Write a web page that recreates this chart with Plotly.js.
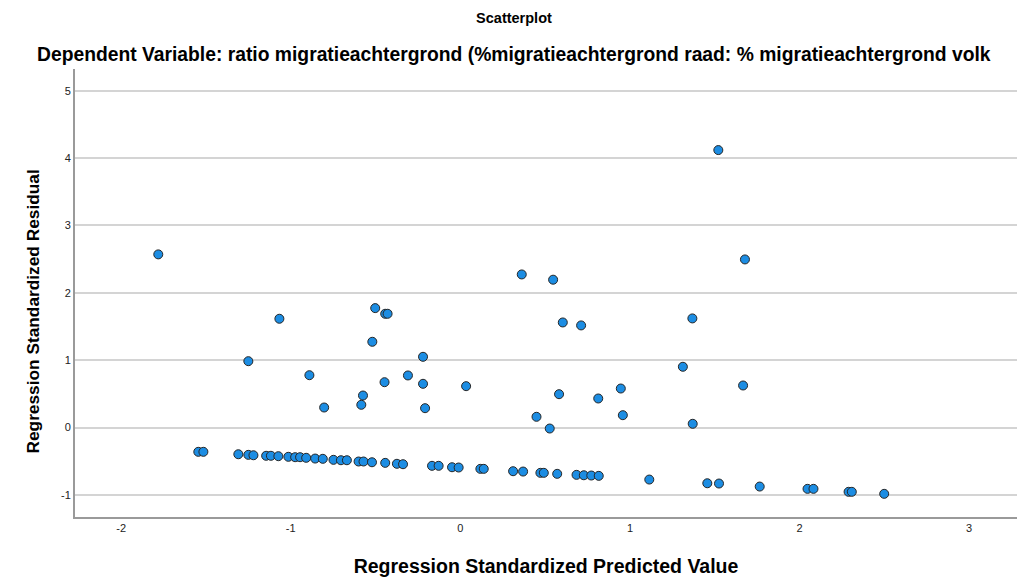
<!DOCTYPE html>
<html>
<head>
<meta charset="utf-8">
<script src="https://cdn.plot.ly/plotly-3.0.1.min.js"></script>
<style>html,body{margin:0;padding:0;background:#fff}#chart{width:1027px;height:584px}</style>
</head>
<body>
<div id="chart"></div>
<script>
// Regression standardized predicted values (x) and residuals (y)
const predicted = [
  -1.545, -1.515, -1.309, -1.250, -1.220, -1.145, -1.117, -1.073, -1.014, -0.974,
  -0.945, -0.909, -0.856, -0.811, -0.748, -0.704, -0.669, -0.600, -0.571, -0.521,
  -0.443, -0.374, -0.338, -0.167, -0.128, -0.049, -0.010, 0.118, 0.138, 0.311,
  0.370, 0.472, 0.492, 0.571, 0.685, 0.728, 0.772, 0.816, 1.114, 1.456,
  1.525, 1.765, 2.047, 2.082, 2.289, 2.308, 2.499,
  -1.781, -1.067, -0.502, -0.443, -0.429, -0.519, -0.220, -1.250, -0.890, -0.309,
  -0.447, -0.220, 0.034, -0.574, -0.584, -0.803, -0.208,
  0.362, 0.547, 1.678, 0.604, 0.712, 1.368, 1.312, 0.582, 0.813, 0.946,
  1.667, 0.449, 0.958, 0.527, 1.370, 1.521
];
const residual = [
  -0.361, -0.361, -0.397, -0.406, -0.412, -0.420, -0.420, -0.426, -0.435, -0.441,
  -0.441, -0.450, -0.461, -0.465, -0.480, -0.486, -0.486, -0.505, -0.505, -0.516,
  -0.525, -0.539, -0.545, -0.569, -0.569, -0.590, -0.594, -0.614, -0.614, -0.649,
  -0.654, -0.673, -0.673, -0.688, -0.703, -0.709, -0.713, -0.718, -0.773, -0.828,
  -0.832, -0.877, -0.911, -0.911, -0.955, -0.955, -0.985,
  2.571, 1.615, 1.773, 1.689, 1.689, 1.273, 1.050, 0.985, 0.777, 0.773,
  0.673, 0.649, 0.614, 0.475, 0.337, 0.297, 0.287,
  2.273, 2.195, 2.496, 1.560, 1.516, 1.620, 0.902, 0.495, 0.431, 0.579,
  0.624, 0.159, 0.183, -0.015, 0.055, 4.120
];
const xTicks = [-2, -1, 0, 1, 2, 3];
const yTicks = [-1, 0, 1, 2, 3, 4, 5];
const chartTitle = "Scatterplot";
const subTitle = "Dependent Variable: ratio migratieachtergrond (%migratieachtergrond raad: % migratieachtergrond volk";
const xTitle = "Regression Standardized Predicted Value";
const yTitle = "Regression Standardized Residual";

const font = "Liberation Sans, Arial, sans-serif";

const trace = {
  type: "scatter",
  mode: "markers",
  x: predicted,
  y: residual,
  marker: {size: 9, color: "#1c8de3", line: {color: "#262626", width: 1}},
  hoverinfo: "x+y",
  showlegend: false
};

const layout = {
  width: 1027,
  height: 584,
  margin: {l: 75, r: 10, t: 69, b: 67},
  paper_bgcolor: "#ffffff",
  plot_bgcolor: "#ffffff",
  font: {family: font, color: "#000"},
  title: {
    text: "<b>" + chartTitle + "</b>",
    font: {family: font, size: 14.5, color: "#000"},
    xref: "paper", x: 0.466, xanchor: "center",
    yref: "container", y: 1 - 18/584, yanchor: "middle"
  },
  annotations: [{
    text: "<b>" + subTitle + "</b>",
    xref: "paper", x: 0.466, xanchor: "center",
    yref: "paper", y: (517 - 54) / 448, yanchor: "middle",
    showarrow: false,
    font: {family: font, size: 19.3, color: "#000"}
  }, {
    text: "<b>" + yTitle + "</b>",
    textangle: -90,
    xref: "paper", x: (32 - 75) / 942, xanchor: "center",
    yref: "paper", y: (517 - 311.5) / 448, yanchor: "middle",
    showarrow: false,
    font: {family: font, size: 17.3, color: "#000"}
  }],
  xaxis: {
    range: [-2.272, 3.282],
    tickvals: xTicks,
    ticktext: xTicks.map(String),
    showgrid: false,
    zeroline: false,
    showline: true,
    linecolor: "#9a9a9a",
    linewidth: 2,
    ticks: "",
    tickfont: {family: font, size: 11, color: "#222"},
    title: {text: "<b>" + xTitle + "</b>", font: {family: font, size: 19.5, color: "#000"}, standoff: 26}
  },
  yaxis: {
    range: [-1.329, 5.324],
    tickvals: yTicks,
    ticktext: yTicks.map(String),
    showgrid: true,
    gridcolor: "#d4d4d4",
    gridwidth: 1.5,
    zeroline: false,
    showline: true,
    linecolor: "#9a9a9a",
    linewidth: 2,
    ticks: "",
    ticklen: 0,
    tickfont: {family: font, size: 11, color: "#222"}
  }
};

Plotly.newPlot("chart", [trace], layout, {displayModeBar: false});
</script>
</body>
</html>
